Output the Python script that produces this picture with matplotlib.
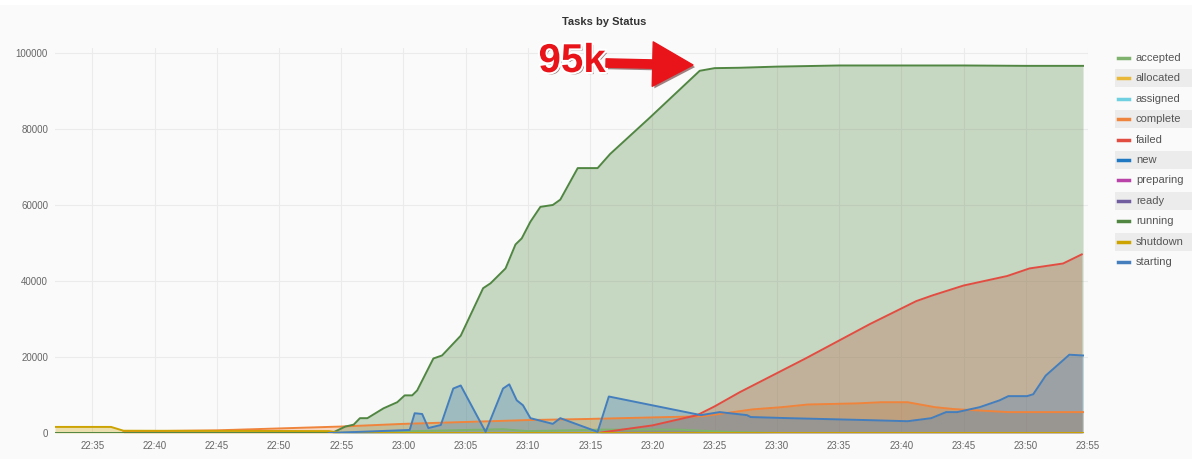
import numpy as np
import pandas as pd
import matplotlib
matplotlib.use("Agg")
import matplotlib.pyplot as plt
import matplotlib.dates as mdates
import matplotlib.patheffects as pe
from matplotlib.patches import Rectangle
from matplotlib.lines import Line2D

DAY = "2017-01-01 "

statuses = ["accepted", "allocated", "assigned", "complete", "failed", "new",
            "preparing", "ready", "running", "shutdown", "starting"]
colors = ["#7EB26D", "#EAB839", "#6ED0E0", "#EF843C", "#E24D42", "#1F78C1",
          "#BA43A9", "#705DA0", "#508642", "#CCA300", "#447EBC"]

accepted_t = ["22:54:00", "22:58:00", "23:05:00", "23:08:00", "23:10:00", "23:16:00",
              "23:22:00", "23:26:00", "23:30:00", "23:54:36"]
accepted_v = [0, 300, 800, 1000, 500, 900, 900, 300, 0, 0]

complete_t = ["22:37:30", "22:45:00", "22:50:00", "22:55:00", "23:00:00", "23:05:00",
              "23:10:00", "23:15:00", "23:20:00", "23:24:00", "23:26:30", "23:28:00",
              "23:30:24", "23:32:30", "23:36:30", "23:38:24", "23:40:30", "23:42:42",
              "23:44:12", "23:48:36", "23:54:36"]
complete_v = [400, 700, 1200, 1700, 2400, 2900, 3400, 3700, 4100, 4400, 5500, 6200,
              6800, 7500, 7800, 8100, 8100, 6800, 6300, 5500, 5500]

failed_t = ["23:15:36", "23:20:00", "23:23:36", "23:25:00", "23:27:00", "23:32:18",
            "23:37:30", "23:41:12", "23:42:30", "23:45:00", "23:48:30", "23:50:18",
            "23:53:00", "23:54:30"]
failed_v = [0, 2000, 4700, 7000, 10700, 19600, 28700, 34700, 36200, 38800, 41300,
            43300, 44600, 47000]

new_t = ["22:54:00", "23:54:36"]
new_v = [0, 0]

running_t = ["22:32:00", "22:54:15", "22:55:20", "22:56:00", "22:56:30", "22:57:06",
             "22:58:24", "22:59:30", "23:00:06", "23:00:42", "23:01:06", "23:02:24",
             "23:03:06", "23:04:36", "23:06:24", "23:07:00", "23:08:12", "23:09:00",
             "23:09:30", "23:10:12", "23:11:00", "23:12:00", "23:12:36", "23:14:00",
             "23:15:36", "23:16:36", "23:19:48", "23:23:48", "23:25:00", "23:27:00",
             "23:30:00", "23:35:00", "23:40:00", "23:45:00", "23:50:00", "23:54:36"]
running_v = [0, 0, 1700, 2200, 3900, 3900, 6500, 8100, 9900, 9900, 11200, 19600,
             20400, 25600, 38100, 39400, 43300, 49600, 51200, 55600, 59500, 60000,
             61400, 69700, 69700, 73400, 83000, 95300, 96000, 96100, 96400, 96700,
             96700, 96700, 96600, 96600]

shutdown_t = ["22:32:00", "22:36:30", "22:37:30", "22:54:00", "22:55:00", "23:54:36"]
shutdown_v = [1600, 1600, 600, 500, 0, 0]

starting_t = ["22:54:00", "23:00:30", "23:00:54", "23:01:30", "23:02:00", "23:03:00",
              "23:04:00", "23:04:36", "23:06:36", "23:08:00", "23:08:30", "23:09:06",
              "23:09:36", "23:10:12", "23:12:00", "23:12:36", "23:15:36", "23:16:30",
              "23:23:54", "23:25:24", "23:27:36", "23:27:54", "23:31:00", "23:33:30",
              "23:37:12", "23:40:30", "23:42:24", "23:43:36", "23:44:30", "23:46:18",
              "23:47:54", "23:48:36", "23:50:06", "23:50:36", "23:51:36", "23:53:30",
              "23:54:36"]
starting_v = [0, 800, 5200, 5000, 1300, 2100, 11700, 12500, 300, 11700, 12800, 8600,
              7300, 3900, 2400, 3900, 300, 9600, 4700, 5500, 4700, 4200, 3900, 3700,
              3400, 3100, 3900, 5500, 5500, 6800, 8600, 9700, 9700, 10200, 15100,
              20600, 20400]

series = {
    "accepted": (accepted_t, accepted_v),
    "complete": (complete_t, complete_v),
    "failed": (failed_t, failed_v),
    "new": (new_t, new_v),
    "running": (running_t, running_v),
    "shutdown": (shutdown_t, shutdown_v),
    "starting": (starting_t, starting_v),
}


def when(times):
    return pd.to_datetime([DAY + t for t in times])


W, H = 1192, 459
fig = plt.figure(figsize=(W / 100, H / 100), dpi=100, facecolor="#fafafa")
fig.patches.append(Rectangle((0, 1 - 5 / H), 1, 5 / H, transform=fig.transFigure,
                             facecolor="white", edgecolor="none", zorder=-1))

ax = fig.add_axes([55 / W, 1 - 433 / H, (1088 - 55) / W, (433 - 48) / H])
ax.set_facecolor("#fafafa")

# grafana style: every series filled from zero, drawn in legend order
for name, col in zip(statuses, colors):
    if name not in series:
        continue
    t, v = series[name]
    x = when(t)
    ax.fill_between(x, 0, v, color=col, alpha=0.3, linewidth=0)
    ax.plot(x, v, color=col, lw=1.4)

ax.set_xlim(pd.Timestamp(DAY + "22:32:00"), pd.Timestamp(DAY + "23:55:00"))
ax.set_ylim(0, 101300)
ax.set_yticks(np.arange(0, 100001, 20000))
ax.yaxis.set_major_formatter(plt.FuncFormatter(lambda v, p: "%d" % v))
ax.xaxis.set_major_locator(mdates.MinuteLocator(byminute=range(0, 60, 5)))
ax.xaxis.set_major_formatter(mdates.DateFormatter("%H:%M"))
ax.tick_params(length=0, labelsize=7, labelcolor="#666666")
ax.tick_params(axis="x", pad=6)
ax.tick_params(axis="y", pad=5)
for lab in ax.get_xticklabels() + ax.get_yticklabels():
    lab.set_fontfamily("Liberation Sans")
ax.grid(True, color="#ebebeb", lw=0.8)
ax.set_axisbelow(True)
for s in ax.spines.values():
    s.set_visible(False)

fig.text(604 / W, 1 - 22 / H, "Tasks by Status", ha="center", va="center",
         fontsize=8, fontweight="bold", color="#333333", family="Liberation Sans")

# legend on the right with striped rows
for i, (name, col) in enumerate(zip(statuses, colors)):
    yc = 58 + i * 20.4
    if i % 2 == 1:
        fig.patches.append(Rectangle((1115 / W, 1 - (yc + 9) / H), (W - 1115) / W, 18 / H,
                                     transform=fig.transFigure, facecolor="#ececec",
                                     edgecolor="none"))
    fig.add_artist(Line2D([1118 / W, 1129 / W], [1 - yc / H, 1 - yc / H], color=col,
                          lw=2.5, transform=fig.transFigure))
    fig.text(1136 / W, 1 - yc / H, name, ha="left", va="center", fontsize=8,
             color="#555555", family="Liberation Sans")

# callout for the running peak
shadow = [pe.SimplePatchShadow(offset=(1.5, -1.5), alpha=0.5), pe.Normal()]
fig.text(572 / W, 1 - 61 / H, "95k", ha="center", va="center", fontsize=29,
         fontweight="bold", color="#e8141a", family="Liberation Sans",
         path_effects=[pe.withSimplePatchShadow(offset=(1.5, -1.5), alpha=0.5),
                       pe.withStroke(linewidth=3, foreground="white")])
arr = ax.annotate("", xy=(693 / W, 1 - 65 / H), xytext=(606 / W, 1 - 63 / H),
                  xycoords="figure fraction", textcoords="figure fraction",
                  arrowprops=dict(arrowstyle="simple,head_length=1.45,head_width=1.6,tail_width=0.3",
                                  color="#e8141a", shrinkA=0, shrinkB=0,
                                  mutation_scale=20))
arr.arrow_patch.set_path_effects(shadow)

fig.savefig("out.png", dpi=100, facecolor=fig.get_facecolor())
